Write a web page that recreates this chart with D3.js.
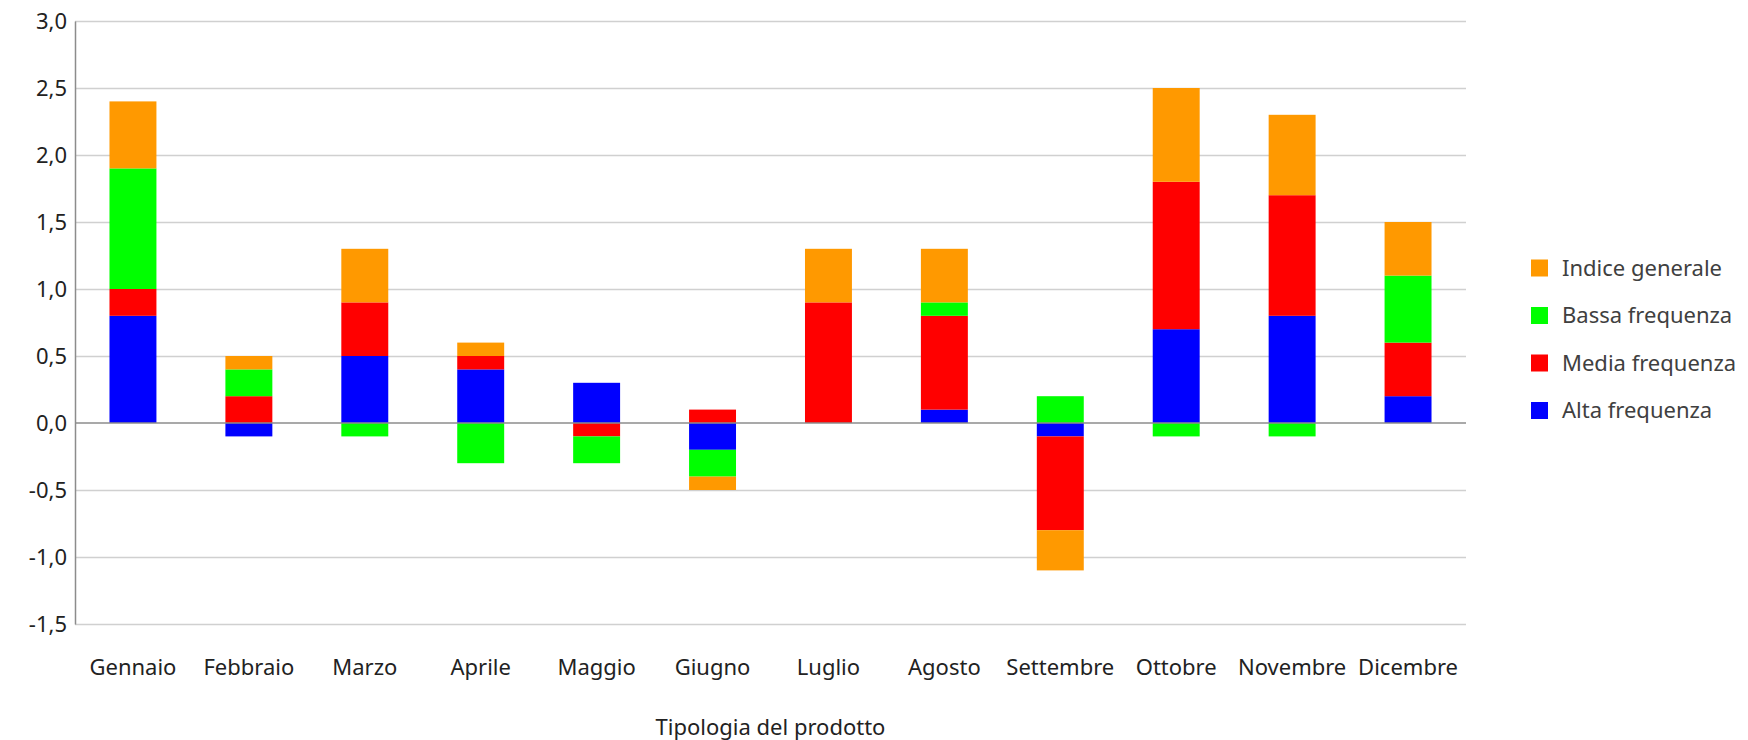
<!DOCTYPE html>
<html>
<head>
<meta charset="utf-8">
<script src="https://cdn.jsdelivr.net/npm/d3@7"></script>
<style>
  body { margin: 0; background: #fff; }
  text { font-family: "Noto Sans", sans-serif; }
</style>
</head>
<body>
<div class="svg-container"></div>
<script>
/* DATA */
const months = ["Gennaio", "Febbraio", "Marzo", "Aprile", "Maggio", "Giugno",
  "Luglio", "Agosto", "Settembre", "Ottobre", "Novembre", "Dicembre"];
const seriesNames = ["Alta frequenza", "Media frequenza", "Bassa frequenza", "Indice generale"];
const alta   = [0.8, -0.1, 0.5, 0.4, 0.3, -0.2, 0.0, 0.1, -0.1, 0.7, 0.8, 0.2];
const media  = [0.2, 0.2, 0.4, 0.1, -0.1, 0.1, 0.9, 0.7, -0.7, 1.1, 0.9, 0.4];
const bassa  = [0.9, 0.2, -0.1, -0.3, -0.2, -0.2, 0.0, 0.1, 0.2, -0.1, -0.1, 0.5];
const indice = [0.5, 0.1, 0.4, 0.1, 0.0, -0.1, 0.4, 0.4, -0.3, 0.7, 0.6, 0.4];
const yTicks = [-1.5, -1.0, -0.5, 0.0, 0.5, 1.0, 1.5, 2.0, 2.5, 3.0];
const colors = ["#0000FF", "#FF0000", "#00FF00", "#FF9900"];

/* CONSTANTS */
const width = 1748, height = 740,
  m = { top: 21, bottom: 116, left: 75, right: 282 };

const rows = months.map((mo, i) => ({
  month: mo,
  "Alta frequenza": alta[i],
  "Media frequenza": media[i],
  "Bassa frequenza": bassa[i],
  "Indice generale": indice[i]
}));

const stacked = d3.stack()
  .keys(seriesNames)
  .offset(d3.stackOffsetDiverging)(rows);

const xScale = d3.scaleBand()
  .domain(months)
  .range([m.left, width - m.right])
  .paddingInner(0.595)
  .paddingOuter(0.2975);

const yScale = d3.scaleLinear()
  .domain([-1.5, 3.0])
  .range([height - m.bottom, m.top]);

const svg = d3.select(".svg-container")
  .append("svg")
  .attr("width", width)
  .attr("height", height);

// gridlines
svg.append("g")
  .selectAll("line")
  .data(yTicks.filter(d => d !== 0))
  .join("line")
  .attr("x1", m.left)
  .attr("x2", width - m.right)
  .attr("y1", d => Math.round(yScale(d)) + 0.5)
  .attr("y2", d => Math.round(yScale(d)) + 0.5)
  .attr("stroke", "#d0d0d0")
  .attr("stroke-width", 1.3);

// bars
svg.append("g")
  .selectAll("g")
  .data(stacked)
  .join("g")
  .attr("fill", (d, i) => colors[i])
  .selectAll("rect")
  .data(d => d)
  .join("rect")
  .attr("x", d => xScale(d.data.month))
  .attr("width", xScale.bandwidth())
  .attr("y", d => yScale(d[1]))
  .attr("height", d => yScale(d[0]) - yScale(d[1]));

// zero line
svg.append("line")
  .attr("x1", m.left)
  .attr("x2", width - m.right)
  .attr("y1", yScale(0))
  .attr("y2", yScale(0))
  .attr("stroke", "#8c8c8c")
  .attr("stroke-width", 1.5);

// y axis
const yAxis = d3.axisLeft(yScale)
  .tickValues(yTicks)
  .tickSize(0)
  .tickPadding(8)
  .tickFormat(d => d3.format(".1f")(d).replace(".", ",").replace("−", "-"));

const yg = svg.append("g")
  .attr("transform", `translate(${m.left},0)`)
  .call(yAxis);
yg.select(".domain").attr("stroke", "#8c8c8c").attr("stroke-width", 1.5);
yg.selectAll(".tick text")
  .attr("font-size", 22)
  .attr("fill", "#222");

// x labels
svg.append("g")
  .selectAll("text")
  .data(months)
  .join("text")
  .attr("x", d => xScale(d) + xScale.bandwidth() / 2)
  .attr("y", 675)
  .attr("text-anchor", "middle")
  .attr("font-size", 22)
  .attr("fill", "#222")
  .text(d => d);

svg.append("text")
  .attr("x", (m.left + width - m.right) / 2)
  .attr("y", 735)
  .attr("text-anchor", "middle")
  .attr("font-size", 22)
  .attr("fill", "#222")
  .text("Tipologia del prodotto");

// legend (reverse order, like the original)
const legend = svg.append("g")
  .attr("transform", "translate(1531,268)")
  .selectAll("g")
  .data(seriesNames.slice().reverse())
  .join("g")
  .attr("transform", (d, i) => `translate(0,${i * 47.5})`);

legend.append("rect")
  .attr("x", 0)
  .attr("y", -8.5)
  .attr("width", 17)
  .attr("height", 17)
  .attr("fill", d => colors[seriesNames.indexOf(d)]);

legend.append("text")
  .attr("x", 31)
  .attr("y", 0)
  .attr("dy", "0.35em")
  .attr("font-size", 22)
  .attr("fill", "#404040")
  .text(d => d);
</script>
</body>
</html>
